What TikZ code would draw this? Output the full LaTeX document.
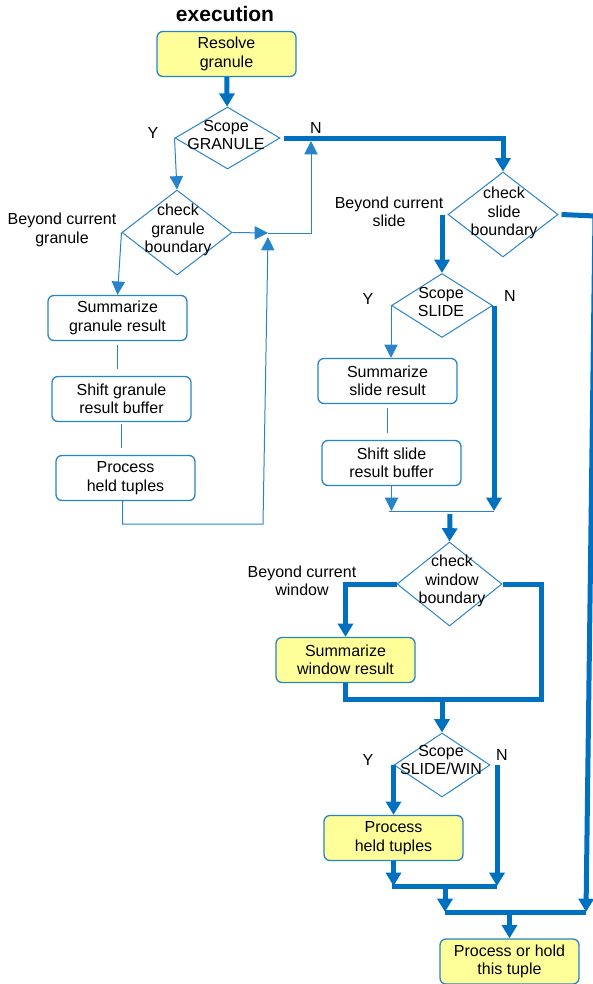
\documentclass[tikz,border=0pt]{standalone}
\usepackage{fontspec}
\setmainfont{Liberation Sans}
\usepackage{tikz}
\usetikzlibrary{calc}
\usetikzlibrary{shapes.geometric}
\usetikzlibrary{arrows.meta}
\definecolor{flowblue}{RGB}{0,112,192}
\definecolor{lineblue}{RGB}{40,132,200}
\definecolor{boxyellow}{RGB}{255,255,153}
\tikzset{
  every node/.style={font=\fontsize{9.6}{11.1}\selectfont, align=center, inner sep=1pt},
  box/.style={draw=lineblue, line width=0.8pt, rounded corners=3.6pt,
    minimum width=83.4pt, minimum height=27pt, inner sep=0pt},
  hibox/.style={box, fill=boxyellow},
  dia/.style={draw=lineblue, line width=0.6pt, shape=diamond, inner sep=0pt},
  thinline/.style={lineblue, line width=0.6pt},
  thinarrow/.style={thinline, -{Triangle[width=8pt,length=8pt]}},
  thickline/.style={flowblue, line width=3pt},
  thickarrow/.style={thickline, -{Triangle[width=9pt,length=8pt]}},
}

\begin{document}
\begin{tikzpicture}[x=0.6pt,y=-0.6pt]
\useasboundingbox (0,0) rectangle (592,984);
%
\node (title) at (225,14) {\fontsize{12.6}{14}\selectfont\bfseries execution};
\node [hibox] (rg) at (226.5,54) {Resolve\\granule};
% granule
\node [dia, minimum width=63pt, minimum height=37.2pt] (sg) at (227.5,138) {};
\node (sgt) at (226,135) {Scope\\GRANULE};
\node [dia, minimum width=66pt, minimum height=51pt] (cg) at (177,232.5) {};
\node (cgt) at (178,230) {check\\granule\\boundary};
\node [box] (sgr) at (117.5,318) {Summarize\\granule result};
\node [box] (sgb) at (121.5,399) {Shift granule\\result buffer};
\node [box] (pht) at (125.5,478) {Process\\held tuples};
% slide
\node [dia, minimum width=66pt, minimum height=51pt] (cs) at (503,214.5) {};
\node (cst) at (504,213) {check\\slide\\boundary};
\node [dia, minimum width=60.6pt, minimum height=38.4pt] (ss) at (442,305.5) {};
\node (sst) at (441,302) {Scope\\SLIDE};
\node [box] (ssr) at (387.5,381) {Summarize\\slide result};
\node [box] (ssb) at (391.5,463) {Shift slide\\result buffer};
% window
\node [dia, minimum width=63pt, minimum height=50.4pt] (cw) at (449.5,584) {};
\node (cwt) at (452,581) {check\\window\\boundary};
\node [hibox] (swr) at (345.5,660) {Summarize\\window result};
\node [dia, minimum width=57.6pt, minimum height=38.4pt] (sw) at (442,765) {};
\node (swt) at (441,760) {Scope\\SLIDE/WIN};
\node [hibox] (wpht) at (393.5,838) {Process\\held tuples};
\node [hibox] (ph) at (509.5,961.5) {Process or hold\\this tuple};
%
\node (sgy) at (153,133) {Y};
\node (sgn) at (316,128) {N};
\node (ssy) at (368,299) {Y};
\node (ssn) at (510,296) {N};
\node (swy) at (368,760) {Y};
\node (swn) at (502,755) {N};
\node (bcg) at (62,230) {Beyond current\\granule};
\node (bcs) at (389,212) {Beyond current\\slide};
\node (bcw) at (302,581) {Beyond current\\window};
%
\coordinate (j1) at (268,233);
\coordinate (j2) at (311,141);
\coordinate (j3) at (263,524);
\coordinate (j4) at (268,237);
\coordinate (j5) at (494,511);
\coordinate (j6) at (389,511);
\coordinate (j7) at (450,514);
\coordinate (j8) at (541,699);
\coordinate (j9) at (497,886);
\coordinate (j10) at (392,886);
\coordinate (j11) at (445,912);
\coordinate (j12) at (586,912);
% granule loop
\draw [thickarrow] (rg) -- (sg);
\draw [thinarrow] (sg.west) -- (cg.north);
\draw [thickarrow] (sg.east) ++(3,0) -| (cs.north);
\draw [thinarrow] (cg.east) -- (j1);
\draw [thinarrow] (j1) -| (j2);
\draw [thinarrow] (cg.west) -- (sgr.north);
\draw [thinline, shorten <=2pt, shorten >=4pt] (sgr.south) -- (sgr.south |- sgb.north);
\draw [thinline, shorten <=1pt, shorten >=4pt] (sgb.south) -- (sgb.south |- pht.north);
\draw [thinarrow] (pht.south) ++(-3,0) |- (j3) -- (j4);
% slide
\draw [thickarrow] (cs.west -| ss.north) -- (ss.north);
\draw [thinarrow] (ss.west) -- (ss.west |- ssr.north);
\draw [thickarrow] (ss.east -| j5) -- (j5);
\draw [thinline, shorten <=2pt, shorten >=4pt] (ssr.south) -- (ssr.south |- ssb.north);
\draw [thinarrow] (ssb.south) -- (ssb.south |- j6);
\draw [thinline] (j6) -- (j5);
% window
\draw [thickarrow] (j7) -- (cw.north);
\draw [thickarrow] (cw.west) -| (swr.north);
\draw [thickline] (swr.south) |- (j8) |- (cw.east);
\draw [thickarrow] (sw.north |- j8) -- (sw.north);
\draw [thickarrow] (sw.west) -- (sw.west |- wpht.north);
\draw [thickarrow] (sw.east -| j9) -- (j9);
\draw [thickarrow] (wpht.south) -- (wpht.south |- j10);
\draw [thickline] (j10) -- (j9);
\draw [thickarrow] (j11 |- j10) -- (j11);
% bypass
\draw [thickarrow] (cs.east) ++(3,0) -- (595,216) -- (j12);
\draw [thickline] (j11) -- (j12);
\draw [thickarrow] (ph.north |- j12) -- (ph.north);
\end{tikzpicture}
\end{document}
